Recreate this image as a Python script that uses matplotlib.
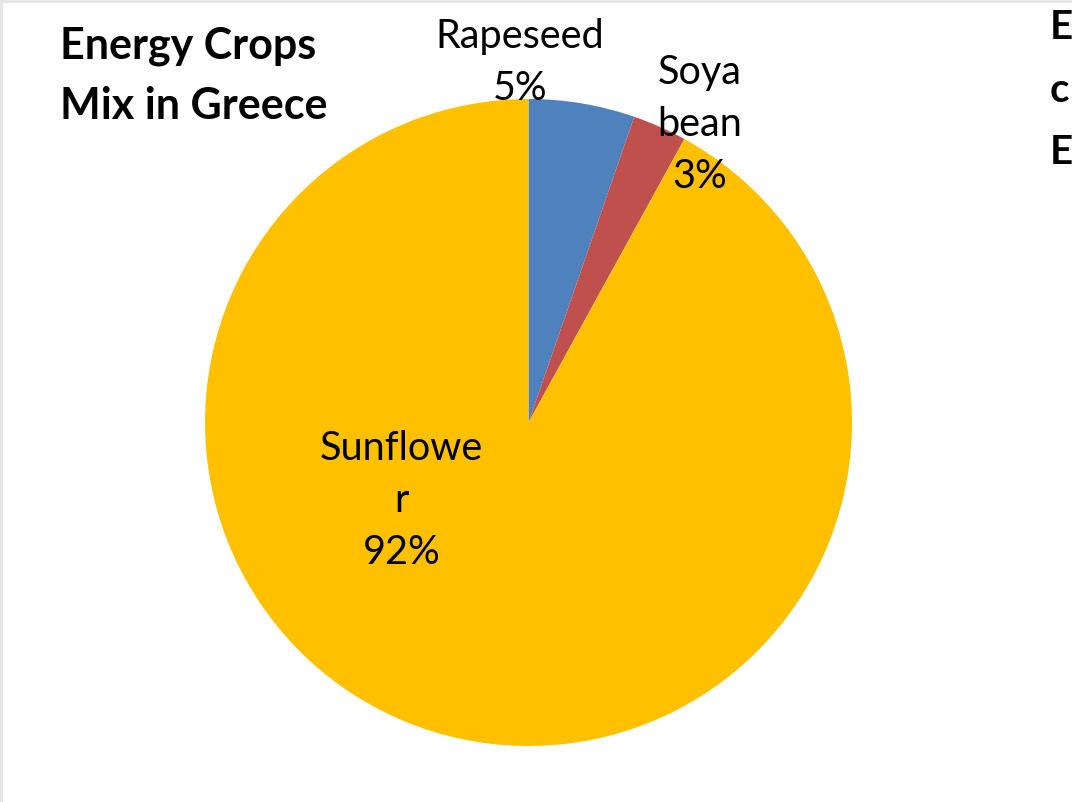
import matplotlib
matplotlib.use("Agg")
import matplotlib.pyplot as plt
from matplotlib.patches import Rectangle

categories = ["Rapeseed", "Soya bean", "Sunflower"]
shares = [5.3, 2.7, 92.0]
label_texts = ["Rapeseed\n5%", "Soya\nbean\n3%", "Sunflowe\nr\n92%"]
colors = ["#4F81BD", "#C0504D", "#FFC000"]
title_text = "Energy Crops\nMix in Greece"
side_text = "E\nc\nE"

plt.rcParams['font.family'] = ['Lato', 'DejaVu Sans']

W, H = 1072, 803
fig = plt.figure(figsize=(W / 100, H / 100), dpi=100)
fig.patch.set_facecolor("white")

# light grey frame at top/left
fig.patches.append(Rectangle((0, 1 - 4 / H), 1, 4 / H, transform=fig.transFigure,
                             facecolor="#e6e6e6", edgecolor="none"))
fig.patches.append(Rectangle((0, 0), 3 / W, 1, transform=fig.transFigure,
                             facecolor="#e6e6e6", edgecolor="none"))

cx, cy, r = 528.5, 423.5, 323.5
ax = fig.add_axes([(cx - r) / W, (H - cy - r) / H, 2 * r / W, 2 * r / H])
ax.pie(shares, colors=colors, startangle=90, counterclock=False,
       wedgeprops=dict(linewidth=0))
ax.set_xlim(-1, 1)
ax.set_ylim(-1, 1)
ax.set_aspect("equal")
ax.axis("off")

label_pos = [(-0.026, 1.115), (0.530, 0.925), (-0.393, -0.238)]
for txt, (x, y) in zip(label_texts, label_pos):
    ax.text(x, y, txt, ha="center", va="center", fontsize=28.5,
            linespacing=1.5, color="black", clip_on=False)

fig.text(60 / W, 1 - 76 / H, title_text, ha="left", va="center",
         fontsize=31, fontweight="bold", linespacing=1.62, color="black")
fig.text(1050 / W, 1 - 90 / H, side_text, ha="left", va="center",
         fontsize=29, fontweight="bold", linespacing=1.85, color="black")

fig.savefig("out.png", dpi=100, facecolor="white")
